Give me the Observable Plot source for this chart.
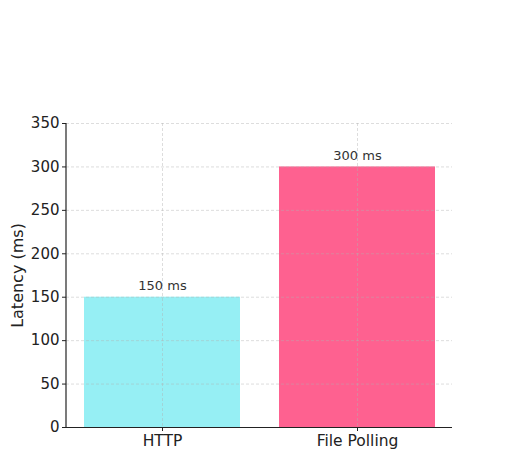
<!DOCTYPE html>
<html>
<head>
<meta charset="utf-8">
<script src="https://cdn.jsdelivr.net/npm/d3@7"></script>
<script src="https://cdn.jsdelivr.net/npm/@observablehq/plot@0.6"></script>
<style>
  html, body { margin: 0; padding: 0; background: #fff; }
  svg { display: block; }
</style>
</head>
<body>
<div id="chart"></div>
<script>
const categories = ["HTTP", "File Polling"];
const latencies = [150, 300];
const barLabels = ["150 ms", "300 ms"];
const colors = ["#96eff4", "#fe6190"];
const yTicks = [0, 50, 100, 150, 200, 250, 300, 350];

const data = categories.map((c, i) => ({cat: c, value: latencies[i], label: barLabels[i], color: colors[i]}));

const chart = Plot.plot({
  width: 506,
  height: 451,
  marginLeft: 66,
  marginRight: 54,
  marginTop: 123,
  marginBottom: 24,
  style: {fontFamily: "DejaVu Sans", fontSize: "13px", color: "#222", background: "#fff"},
  x: {domain: categories, paddingInner: 0.2, paddingOuter: 0.088, label: null},
  y: {domain: [0, 350], label: null},
  marks: [
    Plot.barY(data, {x: "cat", y: "value", fill: "color"}),
    Plot.gridY(yTicks, {stroke: "#b0b0b0", strokeOpacity: 0.55, strokeDasharray: "3,2", strokeWidth: 0.8}),
    Plot.gridX(categories, {stroke: "#b0b0b0", strokeOpacity: 0.55, strokeDasharray: "3,2", strokeWidth: 0.8}),
    Plot.ruleY([0], {stroke: "#222", strokeWidth: 1.2}),
    Plot.axisY({ticks: yTicks, tickSize: 4, tickPadding: 3, fontSize: 15, label: null, stroke: "#222"}),
    Plot.axisX({tickSize: 4, tickPadding: 3, fontSize: 15.5, label: null, stroke: "#222"}),
    Plot.text(data, {x: "cat", y: "value", text: "label", dy: -11, fontSize: 13, fill: "#333"}),
    Plot.text(["Latency (ms)"], {frameAnchor: "left", textAnchor: "middle", dx: -49, rotate: -90, fontSize: 16, fill: "#222"})
  ]
});

// left spine
const svg = d3.select(chart);
svg.append("line")
  .attr("x1", 66).attr("x2", 66)
  .attr("y1", 123).attr("y2", 427)
  .attr("stroke", "#222").attr("stroke-width", 1.2);

document.getElementById("chart").appendChild(chart);
</script>
</body>
</html>
